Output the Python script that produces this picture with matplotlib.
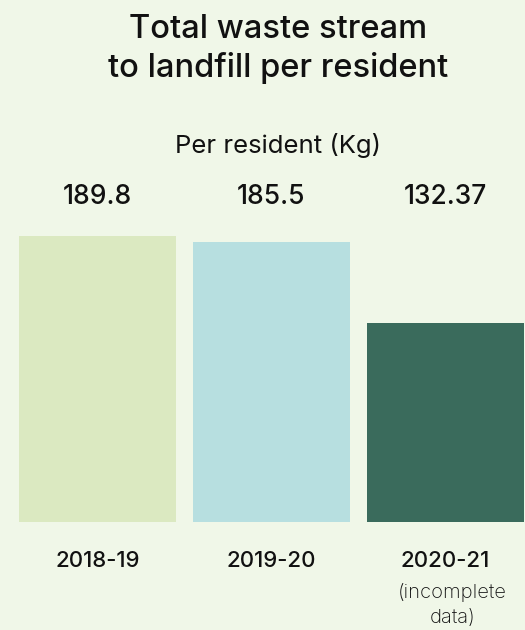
import matplotlib.pyplot as plt
import matplotlib.transforms as mtransforms

# data
years = ["2018-19", "2019-20", "2020-21"]
per_resident = [189.8, 185.5, 132.37]
value_labels = ["189.8", "185.5", "132.37"]
bar_colors = ["#dbe9c1", "#b7dfe0", "#3a6b5c"]
note = "(incomplete\ndata)"

bg = "#f0f7e8"
plt.rcParams['font.family'] = ['Inter', 'DejaVu Sans']

fig = plt.figure(figsize=(5.25, 6.3), dpi=100, facecolor=bg)
# axes: bars from x=19 to 524 px, baseline at y=522 px
ax = fig.add_axes([19/525, 1 - 522/630, 505/525, 301.4/630])
ax.set_facecolor(bg)

xs = list(range(len(years)))
ax.bar(xs, per_resident, width=0.905, color=bar_colors)
ax.set_xlim(-0.4525, 2.4525)
ax.set_ylim(0, 200)

for s in ax.spines.values():
    s.set_visible(False)
ax.set_yticks([])
ax.set_xticks(xs)
ax.set_xticklabels(years, fontsize=16, fontweight='medium', color='#111111')
ax.tick_params(axis='x', length=0, pad=21)

# value labels above bars (x in data, y in figure)
trans = mtransforms.blended_transform_factory(ax.transData, fig.transFigure)
for x, lab in zip(xs, value_labels):
    ax.text(x, 1 - 197/630, lab, transform=trans, ha='center', va='center',
            fontsize=19, fontweight='medium', color='#111111')

ax.text(xs[-1] + 0.04, 1 - 605/630, note, transform=trans, ha='center', va='center',
        fontsize=14.5, fontweight='light', color='#111111', linespacing=1.55)

fig.text(0.53, 1 - 49/630, "Total waste stream\nto landfill per resident",
         ha='center', va='center', fontsize=23.5, fontweight='medium',
         color='#111111', linespacing=1.3)
fig.text(0.53, 1 - 145/630, "Per resident (Kg)", ha='center', va='center',
         fontsize=18.5, fontweight='normal', color='#111111')

fig.savefig("out.png", dpi=100, facecolor=bg)
